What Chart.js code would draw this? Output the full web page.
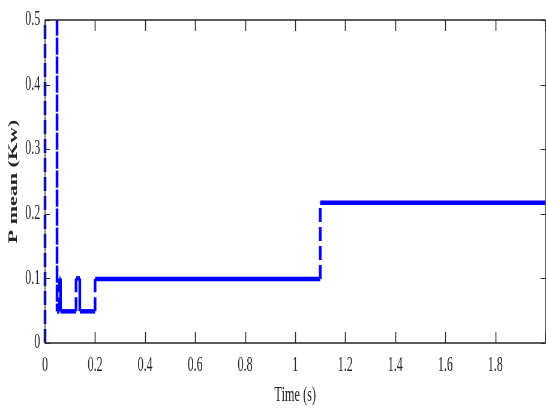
<!DOCTYPE html>
<html>
<head>
<meta charset="utf-8">
<script src="https://cdn.jsdelivr.net/npm/chart.js@4.4.1/dist/chart.umd.min.js"></script>
<style>
  html, body { margin: 0; padding: 0; background: #fff; overflow: hidden; }
  #wrap { width: 920px; height: 410px; transform: scaleX(0.6); transform-origin: 0 0; }
  canvas { display: block; }
</style>
</head>
<body>
<div id="wrap"><canvas id="c" width="920" height="410"></canvas></div>
<script>
// Mean power trace (step response), time in seconds, power in kW
const timeS = [0, 0, 0.048, 0.048, 0.058, 0.058, 0.062, 0.062, 0.124, 0.124, 0.139, 0.139, 0.2, 0.2, 1.1, 1.1, 2.0];
const powerKw = [0, 0.62, 0.62, 0.049, 0.049, 0.1, 0.1, 0.049, 0.049, 0.1, 0.1, 0.049, 0.049, 0.099, 0.099, 0.217, 0.217];

const xTicks = [0, 0.2, 0.4, 0.6, 0.8, 1, 1.2, 1.4, 1.6, 1.8, 2];
const yTicks = [0, 0.1, 0.2, 0.3, 0.4, 0.5];

const points = timeS.map((t, i) => ({ x: t, y: powerKw[i] }));

const serif = "'Liberation Serif', 'Times New Roman', serif";
const ink = '#262626';

// Box around the axes with ticks pointing inward on all four sides
const frameTicks = {
  id: 'frameTicks',
  afterDatasetsDraw(chart) {
    const { ctx, chartArea: a, scales: { x, y } } = chart;
    ctx.save();
    ctx.strokeStyle = ink;
    ctx.lineWidth = 1.4;
    ctx.beginPath();
    ctx.moveTo(a.right, a.top); ctx.lineTo(a.left, a.top);
    ctx.lineTo(a.left, a.bottom); ctx.lineTo(a.right, a.bottom);
    ctx.lineTo(a.right, a.top);
    ctx.stroke();
    ctx.lineWidth = 1.6;
    ctx.beginPath();
    xTicks.forEach(v => {
      const px = Math.round(x.getPixelForValue(v)) + 0.5;
      ctx.moveTo(px, a.bottom); ctx.lineTo(px, a.bottom - 11);
      ctx.moveTo(px, a.top); ctx.lineTo(px, a.top + 11);
    });
    ctx.stroke();
    ctx.lineWidth = 1;
    ctx.beginPath();
    yTicks.forEach(v => {
      const py = Math.round(y.getPixelForValue(v)) + 0.5;
      ctx.moveTo(a.left, py); ctx.lineTo(a.left + 8, py);
      ctx.moveTo(a.right, py); ctx.lineTo(a.right - 8, py);
    });
    ctx.stroke();
    ctx.restore();
  }
};

new Chart(document.getElementById('c'), {
  type: 'line',
  data: {
    datasets: [{
      data: points,
      borderColor: '#0000ff',
      borderWidth: 4.5,
      pointRadius: 0,
      tension: 0,
      fill: false,
      clip: { left: 4, top: 0, right: 0, bottom: 0 },
      segment: {
        // jumps are drawn dashed, steady levels solid
        borderDash: ctx => ctx.p0.parsed.x === ctx.p1.parsed.x ? [14, 5] : undefined
      }
    }]
  },
  options: {
    responsive: false,
    animation: false,
    events: [],
    layout: { padding: { top: 16, right: 2.5, left: 0, bottom: 0 } },
    plugins: { legend: { display: false }, tooltip: { enabled: false } },
    scales: {
      x: {
        type: 'linear',
        min: 0,
        max: 2,
        afterBuildTicks: s => { s.ticks = xTicks.map(v => ({ value: v })); },
        afterFit: s => { s.height = 67; },
        grid: { display: false, drawTicks: false },
        border: { display: false },
        ticks: {
          padding: 11,
          color: ink,
          font: { family: serif, size: 20 },
          maxRotation: 0,
          autoSkip: false,
          callback: v => (v >= 2 ? '' : String(Number(v.toFixed(1))))
        },
        title: {
          display: true,
          text: 'Time (s)',
          color: ink,
          font: { family: serif, size: 20.5 },
          padding: { top: 0, bottom: 2 }
        }
      },
      y: {
        type: 'linear',
        min: 0,
        max: 0.5,
        afterBuildTicks: s => { s.ticks = yTicks.map(v => ({ value: v })); },
        afterFit: s => { s.width = 75; },
        grid: { display: false, drawTicks: false },
        border: { display: false },
        ticks: {
          padding: 8,
          color: ink,
          font: { family: serif, size: 20 },
          callback: v => String(Number(v.toFixed(1)))
        },
        title: {
          display: true,
          text: 'P mean (Kw)',
          color: ink,
          font: { family: serif, size: 22, weight: 'bold' },
          padding: { top: 9, bottom: 0 }
        }
      }
    }
  },
  plugins: [frameTicks]
});
</script>
</body>
</html>
